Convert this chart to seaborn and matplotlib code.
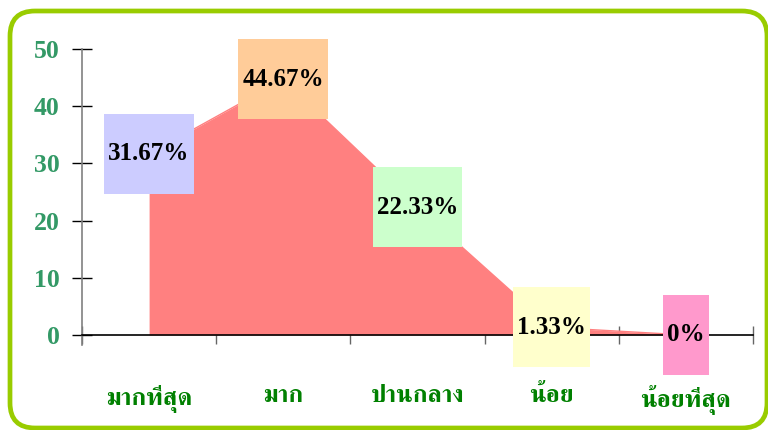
import matplotlib
matplotlib.use('Agg')
import matplotlib.pyplot as plt
from matplotlib.patches import FancyBboxPatch, Rectangle
import seaborn as sns
import pandas as pd

categories = ['มากที่สุด', 'มาก', 'ปานกลาง', 'น้อย', 'น้อยที่สุด']
values = [31.67, 44.67, 22.33, 1.33, 0]
value_labels = ['31.67%', '44.67%', '22.33%', '1.33%', '0%']
box_colors = ['#CCCCFF', '#FFCC99', '#CCFFCC', '#FFFFCC', '#FF99CC']

df = pd.DataFrame({'pos': range(len(categories)), 'value': values})

sns.set_style('white')
plt.rcParams['font.family'] = ['Liberation Serif', 'FreeSerif']
plt.rcParams['font.weight'] = 'bold'

W, H = 768, 430
fig = plt.figure(figsize=(W / 100, H / 100), dpi=100)
ax = fig.add_axes([82 / W, 1 - 345 / H, (753 - 82) / W, (345 - 49) / H])

# area
sns.lineplot(data=df, x='pos', y='value', color='#FF8080', lw=1, ax=ax)
ax.fill_between(df.pos, df.value, 0, color='#FF8080', lw=0)

ax.set_xlim(-0.5, 4.5)
ax.set_ylim(-1.75, 50)
ax.set_xlabel('')
ax.set_ylabel('')

# axes styling
for s in ['top', 'right']:
    ax.spines[s].set_visible(False)
ax.spines['left'].set_color('#808080')
ax.spines['left'].set_linewidth(1.2)
ax.spines['bottom'].set_position(('data', 0))
ax.spines['bottom'].set_color('black')
ax.spines['bottom'].set_linewidth(1.2)

ax.set_yticks(range(0, 51, 10))
ax.tick_params(axis='y', left=True, direction='inout', length=14.5, width=1, color='black',
               labelsize=18.5, labelcolor='#339966', pad=9)
ax.set_xticks(range(len(categories)))
ax.set_xticklabels(categories, family=['FreeSerif'], fontsize=18, color='#008000', fontweight='bold')
ax.tick_params(axis='x', which='major', bottom=False, length=0, pad=36)
ax.set_xticks([i - 0.5 for i in range(len(categories) + 1)], minor=True)
ax.tick_params(axis='x', which='minor', bottom=True, direction='inout', length=13, width=1,
               color='#666666')

# value labels in coloured boxes
fig.canvas.draw()
renderer = fig.canvas.get_renderer()
inv = ax.transData.inverted()
for i, (v, lab, c) in enumerate(zip(values, value_labels, box_colors)):
    t = ax.text(i, v, lab, ha='center', va='center', fontsize=18,
                fontweight='bold', color='black', zorder=5)
    bb = t.get_window_extent(renderer)
    cx, cy = ax.transData.transform((i, v))
    x0, y0 = inv.transform((bb.x0 - 4, cy - 40))
    x1, y1 = inv.transform((bb.x1 + 4, cy + 40))
    ax.add_patch(Rectangle((x0, y0), x1 - x0, y1 - y0, facecolor=c,
                           edgecolor='none', zorder=4, clip_on=False))

# rounded green frame
frame = FancyBboxPatch((0.10, 0.02), 7.57, 4.17, boxstyle='round,pad=0,rounding_size=0.25',
                       transform=fig.dpi_scale_trans, facecolor='none',
                       edgecolor='#99CC00', lw=3.4)
fig.patches.append(frame)

fig.savefig('out.png', dpi=100, facecolor='white')
